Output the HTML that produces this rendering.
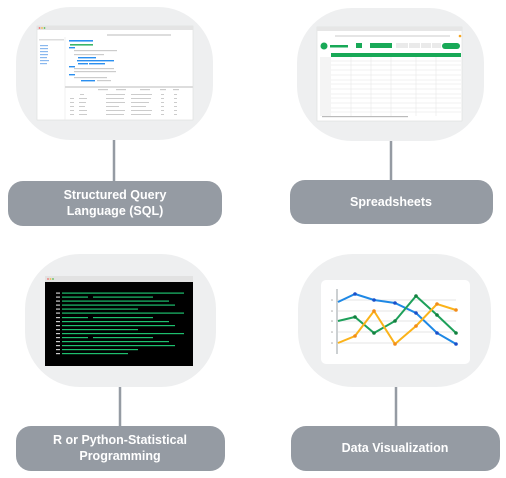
<!DOCTYPE html>
<html><head><meta charset="utf-8"><style>
html,body{margin:0;padding:0;background:#fff;width:506px;height:478px;overflow:hidden}
svg{display:block}
text{font-family:"Liberation Sans",sans-serif;font-weight:bold;font-size:12.5px;fill:#fff}
</style></head><body>
<svg width="506" height="478" viewBox="0 0 506 478" xmlns="http://www.w3.org/2000/svg">
<!-- blobs -->
<rect x="16" y="7" width="197" height="133" rx="55" fill="#eeeff0"/>
<rect x="297" y="8" width="187" height="133" rx="55" fill="#eeeff0"/>
<rect x="25" y="254" width="191" height="133" rx="55" fill="#eeeff0"/>
<rect x="298" y="254" width="193" height="133" rx="55" fill="#eeeff0"/>
<!-- connectors -->
<g stroke="#959ba3" stroke-width="2.5">
<line x1="114" y1="140" x2="114" y2="182"/>
<line x1="391" y1="141" x2="391" y2="181"/>
<line x1="120" y1="387" x2="120" y2="427"/>
<line x1="396" y1="387" x2="396" y2="427"/>
</g>
<!-- labels -->
<g fill="#959ba3">
<rect x="8" y="181" width="214" height="45" rx="15"/>
<rect x="290" y="180" width="203" height="44" rx="15"/>
<rect x="16" y="426" width="209" height="45" rx="15"/>
<rect x="291" y="426" width="209" height="45" rx="15"/>
</g>
<text x="115" y="199" text-anchor="middle">Structured Query</text>
<text x="115" y="215" text-anchor="middle">Language (SQL)</text>
<text x="391" y="206" text-anchor="middle">Spreadsheets</text>
<text x="120" y="444" text-anchor="middle">R or Python-Statistical</text>
<text x="120" y="460" text-anchor="middle">Programming</text>
<text x="395" y="452" text-anchor="middle">Data Visualization</text>

<!-- SQL screenshot -->
<rect x="37" y="26" width="156" height="94" fill="#fff" stroke="#ddd" stroke-width="0.6"/>
<rect x="37" y="26" width="156" height="4" fill="#e4e4e4"/>
<circle cx="39.5" cy="28" r="0.9" fill="#e66"/><circle cx="42" cy="28" r="0.9" fill="#eb4"/><circle cx="44.5" cy="28" r="0.9" fill="#5b5"/>
<rect x="107" y="34" width="64" height="2" fill="#ddd"/>
<line x1="65" y1="37" x2="65" y2="120" stroke="#e5e5e5" stroke-width="0.5"/>
<rect x="39" y="39" width="25" height="1.5" fill="#ddd"/>
<g fill="#8ab8ee"><rect x="40" y="45" width="8" height="1.2"/><rect x="40" y="48" width="8" height="1.2"/><rect x="40" y="51" width="8" height="1.2"/><rect x="40" y="54" width="8" height="1.2"/><rect x="40" y="57" width="7" height="1.2"/><rect x="40" y="60" width="9" height="1.2"/><rect x="40" y="63" width="7" height="1.2"/></g>
<g fill="#2a8ff0"><rect x="69" y="40" width="24" height="1.6"/><rect x="69" y="47" width="6" height="1.4"/><rect x="78" y="57" width="18" height="1.4"/><rect x="77" y="60" width="37" height="1.4"/><rect x="78" y="63" width="10" height="1.4"/><rect x="89" y="63" width="16" height="1.4"/><rect x="69" y="66" width="6" height="1.4"/><rect x="69" y="74" width="6" height="1.4"/><rect x="81" y="80" width="14" height="1.4"/></g>
<rect x="70" y="44" width="23" height="1.6" fill="#3bb56a"/>
<g fill="#ccc"><rect x="74" y="50" width="43" height="1.2"/><rect x="74" y="54" width="30" height="1.2"/><rect x="74" y="68" width="40" height="1.2"/><rect x="74" y="71" width="42" height="1.2"/><rect x="74" y="77" width="33" height="1.2"/><rect x="97" y="80" width="14" height="1.2"/></g>
<rect x="65" y="86" width="128" height="2" fill="#ddd"/>
<g fill="#ccc">
<rect x="98" y="89" width="10" height="1.2"/><rect x="116" y="89" width="10" height="1.2"/><rect x="140" y="89" width="10" height="1.2"/><rect x="160" y="89" width="6" height="1.2"/><rect x="173" y="89" width="6" height="1.2"/>
<rect x="80" y="94" width="4" height="1"/><rect x="106" y="94" width="19" height="1"/><rect x="131" y="94" width="21" height="1"/><rect x="161" y="94" width="3" height="1"/><rect x="174" y="94" width="3" height="1"/>
<rect x="70" y="98" width="4" height="1"/><rect x="79" y="98" width="8" height="1"/><rect x="106" y="98" width="18" height="1"/><rect x="131" y="98" width="20" height="1"/><rect x="161" y="98" width="3" height="1"/><rect x="174" y="98" width="3" height="1"/>
<rect x="70" y="102" width="4" height="1"/><rect x="79" y="102" width="7" height="1"/><rect x="106" y="102" width="19" height="1"/><rect x="131" y="102" width="18" height="1"/><rect x="161" y="102" width="3" height="1"/><rect x="174" y="102" width="3" height="1"/>
<rect x="70" y="106" width="4" height="1"/><rect x="79" y="106" width="6" height="1"/><rect x="106" y="106" width="13" height="1"/><rect x="131" y="106" width="15" height="1"/><rect x="161" y="106" width="3" height="1"/><rect x="174" y="106" width="3" height="1"/>
<rect x="70" y="110" width="4" height="1"/><rect x="79" y="110" width="8" height="1"/><rect x="106" y="110" width="19" height="1"/><rect x="131" y="110" width="21" height="1"/><rect x="161" y="110" width="3" height="1"/><rect x="174" y="110" width="3" height="1"/>
<rect x="70" y="114" width="4" height="1"/><rect x="79" y="114" width="8" height="1"/><rect x="106" y="114" width="18" height="1"/><rect x="131" y="114" width="20" height="1"/><rect x="161" y="114" width="3" height="1"/><rect x="174" y="114" width="3" height="1"/>
</g>

<!-- Spreadsheet screenshot -->
<rect x="317" y="27" width="145" height="94" fill="#fff" stroke="#ddd" stroke-width="0.6"/>
<rect x="317" y="27" width="145" height="4" fill="#e6e6e6"/>
<rect x="335" y="35" width="115" height="2" fill="#e5e5e5"/>
<circle cx="460" cy="36" r="1.3" fill="#f5a623"/>
<circle cx="324" cy="46" r="3.5" fill="#18a957"/>
<g fill="#18a957"><rect x="330" y="45" width="18" height="2.5"/><rect x="356" y="43" width="6" height="5"/><rect x="370" y="43" width="22" height="5"/><rect x="442" y="43" width="18" height="6" rx="3"/><rect x="331" y="53" width="130" height="4"/></g>
<g fill="#eaeaea"><rect x="396" y="43" width="12" height="5"/><rect x="409" y="43" width="11" height="5"/><rect x="421" y="43" width="10" height="5"/><rect x="432" y="43" width="9" height="5"/></g>
<rect x="320" y="57" width="11" height="59" fill="#f4f4f4"/>
<g stroke="#e3e3e3" stroke-width="0.5">
<line x1="331" y1="61" x2="461" y2="61"/><line x1="331" y1="65" x2="461" y2="65"/><line x1="331" y1="70" x2="461" y2="70"/><line x1="331" y1="75" x2="461" y2="75"/><line x1="331" y1="80" x2="461" y2="80"/><line x1="331" y1="84" x2="461" y2="84"/><line x1="331" y1="89" x2="461" y2="89"/><line x1="331" y1="94" x2="461" y2="94"/><line x1="331" y1="98" x2="461" y2="98"/><line x1="331" y1="103" x2="461" y2="103"/><line x1="331" y1="108" x2="461" y2="108"/><line x1="331" y1="112" x2="461" y2="112"/>
<line x1="351" y1="57" x2="351" y2="116"/><line x1="371" y1="57" x2="371" y2="116"/><line x1="391" y1="57" x2="391" y2="116"/><line x1="416" y1="57" x2="416" y2="116"/><line x1="436" y1="57" x2="436" y2="116"/>
</g>
<rect x="322" y="116" width="86" height="1.2" fill="#bbb"/>

<!-- Code screenshot -->
<rect x="45" y="276" width="148" height="90" fill="#000"/>
<rect x="45" y="276" width="148" height="6" fill="#e2e2e2"/>
<circle cx="48" cy="279" r="0.9" fill="#e66"/><circle cx="50.5" cy="279" r="0.9" fill="#eb4"/><circle cx="53" cy="279" r="0.9" fill="#5b5"/>
<g fill="#ccc">
<rect x="56" y="292.5" width="4" height="1.2"/><rect x="56" y="296.5" width="4" height="1.2"/><rect x="56" y="300.5" width="4" height="1.2"/><rect x="56" y="304.5" width="4" height="1.2"/><rect x="56" y="308.5" width="4" height="1.2"/><rect x="56" y="312.5" width="4" height="1.2"/><rect x="56" y="317" width="4" height="1.2"/><rect x="56" y="321" width="4" height="1.2"/><rect x="56" y="325" width="4" height="1.2"/><rect x="56" y="329" width="4" height="1.2"/><rect x="56" y="333" width="4" height="1.2"/><rect x="56" y="337" width="4" height="1.2"/><rect x="56" y="341" width="4" height="1.2"/><rect x="56" y="345" width="4" height="1.2"/><rect x="56" y="349" width="4" height="1.2"/><rect x="56" y="353" width="4" height="1.2"/>
</g>
<g fill="#1dbf6e">
<rect x="62" y="292.5" width="122" height="1.2"/>
<rect x="62" y="296.5" width="26" height="1.2"/><rect x="93" y="296.5" width="60" height="1.2"/>
<rect x="62" y="300.5" width="107" height="1.2"/>
<rect x="62" y="304.5" width="113" height="1.2"/>
<rect x="62" y="308.5" width="76" height="1.2"/>
<rect x="62" y="312.5" width="122" height="1.2"/>
<rect x="62" y="317" width="26" height="1.2"/><rect x="93" y="317" width="60" height="1.2"/>
<rect x="62" y="321" width="107" height="1.2"/>
<rect x="62" y="325" width="113" height="1.2"/>
<rect x="62" y="329" width="76" height="1.2"/>
<rect x="62" y="333" width="122" height="1.2"/>
<rect x="62" y="337" width="26" height="1.2"/><rect x="93" y="337" width="60" height="1.2"/>
<rect x="62" y="341" width="107" height="1.2"/>
<rect x="62" y="345" width="113" height="1.2"/>
<rect x="62" y="349" width="76" height="1.2"/>
<rect x="62" y="353" width="66" height="1.2"/>
</g>

<!-- Chart -->
<rect x="321" y="280" width="149" height="84" rx="5" fill="#fff"/>
<g stroke="#e6e6e6" stroke-width="1"><line x1="338" y1="300" x2="456" y2="300"/><line x1="338" y1="311" x2="456" y2="311"/><line x1="338" y1="321" x2="456" y2="321"/><line x1="338" y1="332" x2="456" y2="332"/><line x1="338" y1="343" x2="456" y2="343"/></g>
<line x1="337" y1="289" x2="337" y2="354" stroke="#9aa0a6" stroke-width="1"/>
<g fill="#aaa"><circle cx="332" cy="300" r="0.8"/><circle cx="332" cy="311" r="0.8"/><circle cx="332" cy="321" r="0.8"/><circle cx="332" cy="332" r="0.8"/><circle cx="332" cy="343" r="0.8"/></g>
<polyline points="338,302 355,294 374,300 395,303 416,313 437,333 456,344" fill="none" stroke="#1e88e5" stroke-width="2"/>
<polyline points="338,321 355,317 374,333 395,321 416,296 437,315 456,333" fill="none" stroke="#1ea05a" stroke-width="2"/>
<polyline points="338,343 355,336 374,311 395,344 416,326 437,304 456,310" fill="none" stroke="#fbb31a" stroke-width="2"/>
<g fill="#1a4fc9"><circle cx="355" cy="294" r="1.8"/><circle cx="374" cy="300" r="1.8"/><circle cx="395" cy="303" r="1.8"/><circle cx="416" cy="313" r="1.8"/><circle cx="437" cy="333" r="1.8"/><circle cx="456" cy="344" r="1.8"/></g>
<g fill="#13803f"><circle cx="355" cy="317" r="1.8"/><circle cx="374" cy="333" r="1.8"/><circle cx="395" cy="321" r="1.8"/><circle cx="416" cy="296" r="1.8"/><circle cx="437" cy="315" r="1.8"/><circle cx="456" cy="333" r="1.8"/></g>
<g fill="#f28c1a"><circle cx="355" cy="336" r="1.8"/><circle cx="374" cy="311" r="1.8"/><circle cx="395" cy="344" r="1.8"/><circle cx="416" cy="326" r="1.8"/><circle cx="437" cy="304" r="1.8"/><circle cx="456" cy="310" r="1.8"/></g>
</svg>
</body></html>
